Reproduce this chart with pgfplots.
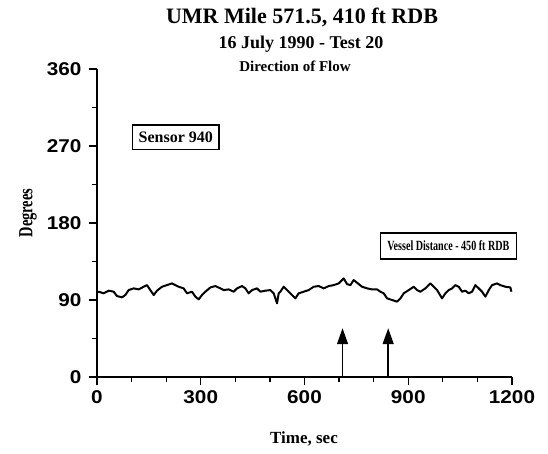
\documentclass[border=0pt]{standalone}
\usepackage{fontspec}
\setmainfont{Liberation Serif}
\newfontfamily\tickfont[FakeStretch=1.12]{Liberation Sans}
\newfontfamily\condfont[FakeStretch=0.72]{Liberation Serif}
\usepackage{pgfplots}
\pgfplotsset{compat=1.18}
\usetikzlibrary{arrows.meta}

\begin{document}
\begin{tikzpicture}[x=1pt,y=1pt]
\path[use as bounding box] (-97,-76) rectangle (451,377);
\begin{axis}[
    at={(0,0)}, anchor=south west,
    scale only axis, width=415pt, height=308pt,
    xmin=0, xmax=1200, ymin=0, ymax=360,
    axis x line*=bottom, axis y line*=left,
    axis line style={line width=1.7pt, -},
    xtick={0,300,...,1200}, ytick={0,90,...,360},
    minor x tick num=2, minor y tick num=1,
    tick align=outside,
    major tick length=8pt, minor tick length=5pt,
    tick style={line width=1.3pt, black},
    ticklabel style={font=\tickfont\bfseries\fontsize{18.5}{18.5}\selectfont},
    xticklabel style={yshift=-2pt},
    yticklabel style={xshift=-4pt},
    /pgf/number format/assume math mode=true,
    /pgf/number format/set thousands separator={},
    scaled ticks=false,
    clip=false,
]
% flow direction, sensor 940
\addplot[black, line width=2pt, line join=round] coordinates {
    (0,99.0) (4.8,99.7) (19.3,97.8) (33.7,100.9) (48.2,99.7) (57.8,94.6)
    (72.3,93.1) (81.9,95.8) (91.6,101.6) (106.0,103.6) (120.5,102.4)
    (135.0,105.5) (144.6,107.4) (154.2,101.6) (163.9,95.8) (173.5,100.9)
    (188.0,105.5) (202.4,107.4) (216.9,109.4) (226.5,107.4) (236.2,105.5)
    (250.6,103.6) (260.3,97.8) (274.7,99.7) (284.4,93.9) (294.0,90.8)
    (303.6,95.8) (313.3,99.7) (327.8,104.7) (342.2,106.3) (356.7,103.6)
    (366.3,101.6) (380.8,102.4) (395.2,99.7) (404.9,103.6) (419.3,106.3)
    (429.0,103.6) (438.6,97.8) (448.3,101.6) (462.7,103.6) (472.4,99.7)
    (486.8,100.9) (501.3,101.6) (510.9,97.8) (520.6,86.1) (525.4,97.8)
    (530.2,99.7) (539.9,105.5) (549.5,101.6) (564.0,95.8) (573.6,91.9)
    (583.2,97.8) (597.7,99.7) (612.1,101.6) (626.6,105.5) (641.1,106.3)
    (655.5,103.6) (670.0,106.3) (684.5,107.4) (698.9,109.4) (713.4,115.2)
    (723.0,108.6) (732.7,107.4) (742.3,113.3) (751.9,110.2) (766.4,105.5)
    (780.9,103.6) (795.3,102.4) (809.8,102.4) (819.4,99.7) (829.0,97.8)
    (838.7,91.9) (853.2,90.0) (867.6,88.1) (877.3,91.9) (886.9,97.8)
    (901.4,101.6) (915.8,105.5) (925.4,101.6) (935.1,99.7) (949.5,103.6)
    (964.0,109.4) (973.6,105.5) (983.3,101.6) (997.7,91.9) (1007.4,97.8)
    (1017.0,101.6) (1026.7,103.6) (1036.3,107.4) (1045.9,105.5) (1055.6,99.7)
    (1065.2,100.9) (1074.9,97.8) (1084.5,99.7) (1094.1,107.4) (1103.8,103.6)
    (1113.4,99.7) (1123.1,93.9) (1132.7,101.6) (1142.3,107.4) (1156.8,109.4)
    (1166.4,107.4) (1180.9,105.5) (1195.3,104.7) (1198.2,99.7)
};
% vessel passage arrows
\draw[-{Triangle[length=16pt,width=11pt]}, line width=1.4pt] (axis cs:710,0) -- (axis cs:710,57);
\draw[-{Triangle[length=16pt,width=11pt]}, line width=1.4pt] (axis cs:842,0) -- (axis cs:842,57);
% labels in boxes
\node[draw, line width=1.3pt, inner xsep=6pt, inner ysep=7pt, font=\bfseries\fontsize{16}{16}\selectfont]
    at (axis cs:228,280) {Sensor 940};
\node[draw, line width=1.3pt, inner xsep=7pt, inner ysep=8pt, font=\condfont\bfseries\fontsize{14}{14}\selectfont]
    at (axis cs:1016,153) {Vessel Distance - 450 ft RDB};
\end{axis}
\node[font=\bfseries\fontsize{22}{22}\selectfont] at (205,360) {UMR Mile 571.5, 410 ft RDB};
\node[font=\bfseries\fontsize{18}{18}\selectfont] at (204,333) {16 July 1990 - Test 20};
\node[font=\bfseries\fontsize{15}{15}\selectfont] at (198,311) {Direction of Flow};
\node[font=\condfont\bfseries\fontsize{20}{20}\selectfont, rotate=90] at (-69,164) {Degrees};
\node[font=\bfseries\fontsize{17}{17}\selectfont] at (207,-62) {Time, sec};
\end{tikzpicture}
\end{document}
